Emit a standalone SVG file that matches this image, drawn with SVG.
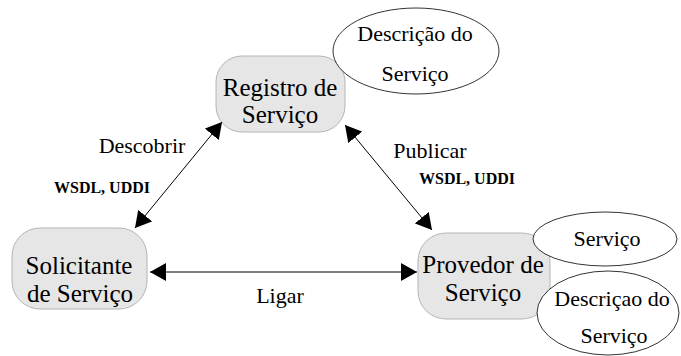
<svg xmlns="http://www.w3.org/2000/svg" width="681" height="356" viewBox="0 0 681 356">
<style>
.box{fill:#e6e6e6;stroke:#b4b4b4;stroke-width:1}
.ell{fill:#fff;stroke:#000;stroke-width:0.8}
.c{stroke:#000;stroke-width:1;fill:none;marker-start:url(#a);marker-end:url(#a)}
</style>
<defs>
<marker id="a" viewBox="0 0 16 18" refX="16" refY="9" markerWidth="16" markerHeight="18" markerUnits="userSpaceOnUse" orient="auto-start-reverse">
<path d="M0,0 L16,9 L0,18 z" fill="#000"/>
</marker>
</defs>
<g font-family="Liberation Serif, DejaVu Serif, serif" text-anchor="middle" fill="#000">
<g id="registro">
<rect class="box" x="216" y="56" width="129" height="76" rx="26"/>
<text font-size="25" x="280" y="96">Registro de</text>
<text font-size="25" x="280" y="123">Serviço</text>
</g>
<g id="descricao1">
<ellipse class="ell" cx="416" cy="51" rx="83" ry="43"/>
<text font-size="22" x="415" y="41">Descrição do</text>
<text font-size="22" x="415" y="81">Serviço</text>
</g>
<g id="solicitante">
<rect class="box" x="12" y="228" width="135" height="81" rx="28"/>
<text font-size="25" x="79" y="274">Solicitante</text>
<text font-size="25" x="80" y="302">de Serviço</text>
</g>
<g id="provedor">
<rect class="box" x="418" y="233" width="132" height="86" rx="28"/>
<text font-size="25" x="483" y="273">Provedor de</text>
<text font-size="25" x="483" y="301">Serviço</text>
</g>
<g id="servico">
<ellipse class="ell" cx="605" cy="239" rx="72" ry="27"/>
<text font-size="22" x="607" y="246">Serviço</text>
</g>
<g id="descricao2">
<ellipse class="ell" cx="608" cy="313" rx="71" ry="42"/>
<text font-size="22" x="612" y="306">Descriçao do</text>
<text font-size="22" x="614" y="343">Serviço</text>
</g>
<g id="connectors">
<line class="c" x1="222" y1="122" x2="135" y2="228"/>
<line class="c" x1="345" y1="125" x2="432" y2="230"/>
<line class="c" x1="150" y1="272" x2="417" y2="272"/>
<text font-size="22" x="142" y="153">Descobrir</text>
<text font-size="16" font-weight="bold" x="102" y="193">WSDL, UDDI</text>
<text font-size="22" x="430" y="158">Publicar</text>
<text font-size="16" font-weight="bold" x="467" y="184">WSDL, UDDI</text>
<text font-size="22" x="280" y="303">Ligar</text>
</g>
</g>
</svg>
